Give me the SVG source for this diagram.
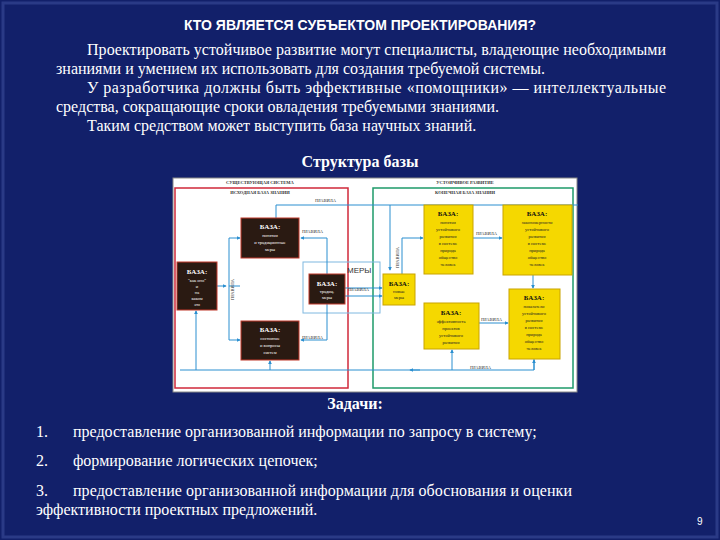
<svg xmlns="http://www.w3.org/2000/svg" width="720" height="540" viewBox="0 0 720 540">
<defs>
<marker id="ar" viewBox="0 0 6 6" refX="5" refY="3" markerWidth="4" markerHeight="4" orient="auto"><path d="M0,0L6,3L0,6z" fill="#2a8fd0"/></marker>
</defs>
<style>
.t{font-family:"Liberation Serif",serif;fill:#fff;font-size:16px}
.b{font-weight:bold}
.bx{fill:#2a1a12;stroke:#c0392b;stroke-width:1}
.yb{fill:#f5d800;stroke:#c9a400;stroke-width:1}
.wt{font-family:"Liberation Serif",serif;fill:#fff;font-size:4.5px;text-anchor:middle}
.wh{font-family:"Liberation Serif",serif;fill:#fff;font-size:7px;font-weight:bold;text-anchor:middle}
.yt{font-family:"Liberation Serif",serif;fill:#222;font-size:4.5px;text-anchor:middle}
.yh{font-family:"Liberation Serif",serif;fill:#111;font-size:7px;font-weight:bold;text-anchor:middle}
.lb{font-family:"Liberation Serif",serif;fill:#333;font-size:4.5px}
.c{fill:none;stroke:#2a8fd0;stroke-width:1;marker-end:url(#ar)}
.cn{fill:none;stroke:#2a8fd0;stroke-width:1}
</style>
<rect width="720" height="540" fill="#12206a"/>
<rect x="3" y="3" width="714" height="534" fill="none" stroke="#2a3a86" stroke-width="3"/>
<text x="360" y="30" font-family="Liberation Sans,sans-serif" font-size="14" font-weight="bold" fill="#fff" text-anchor="middle">КТО ЯВЛЯЕТСЯ СУБЪЕКТОМ ПРОЕКТИРОВАНИЯ?</text>
<text class="t" x="87" y="55" textLength="579" lengthAdjust="spacing">Проектировать устойчивое развитие могут специалисты, владеющие необходимыми</text>
<text class="t" x="56" y="74">знаниями и умением их использовать для создания требуемой системы.</text>
<text class="t" x="87" y="93" textLength="579" lengthAdjust="spacing">У разработчика должны быть эффективные «помощники» — интеллектуальные</text>
<text class="t" x="56" y="112">средства, сокращающие сроки овладения требуемыми знаниями.</text>
<text class="t" x="87" y="131">Таким средством может выступить база научных знаний.</text>
<text class="t b" x="360" y="167" text-anchor="middle">Структура базы</text>
<g id="figure">
<rect x="173" y="178" width="404" height="214" fill="#fff" stroke="#888" stroke-width="1"/>
<rect x="175" y="188" width="173" height="200" fill="none" stroke="#d0283a" stroke-width="1.5"/>
<rect x="373" y="188" width="200" height="200" fill="none" stroke="#1e9a6a" stroke-width="1.5"/>
<text class="lb" x="260" y="184" text-anchor="middle" font-weight="bold">СУЩЕСТВУЮЩАЯ СИСТЕМА</text>
<text class="lb" x="260" y="194" text-anchor="middle" font-weight="bold">ИСХОДНАЯ БАЗА ЗНАНИЙ</text>
<text class="lb" x="465" y="184" text-anchor="middle" font-weight="bold">УСТОЙЧИВОЕ РАЗВИТИЕ</text>
<text class="lb" x="465" y="194" text-anchor="middle" font-weight="bold">КОНЕЧНАЯ БАЗА ЗНАНИЙ</text>
<rect x="303" y="262" width="77" height="51" fill="none" stroke="#7fb8e0" stroke-width="1"/>
<text x="347" y="273" font-family="Liberation Sans,sans-serif" font-size="8" fill="#333">МЕРЫ</text>
</g>
<g id="connectors">
<path class="cn" d="M276,218V205H578"/>
<path class="c" d="M390,205V270"/>
<path class="cn" d="M229,286H240"/>
<path class="c" d="M217,286H226"/>
<path class="c" d="M229,286V238H240"/>
<path class="c" d="M229,286V340H240"/>
<path class="c" d="M327,274V238H301"/>
<path class="c" d="M327,304V340H301"/>
<path class="c" d="M345,288H382"/>
<path class="c" d="M345,296H382"/>
<path class="c" d="M402,274V238H423"/>
<path class="c" d="M473,238H502"/>
<path class="c" d="M533,275V288"/>
<path class="c" d="M479,323H508"/>
<path class="cn" d="M534,359V370H180"/>
<path class="c" d="M196,370V311"/>
<path class="c" d="M270,370V361"/>
<path class="c" d="M452,370V350"/>
<path class="c" d="M534,370V360"/>
<path class="c" d="M420,370H410"/>
<text class="lb" x="315" y="202">ПРАВИЛА</text>
<text class="lb" x="302" y="233">ПРАВИЛА</text>
<text class="lb" x="302" y="339">ПРАВИЛА</text>
<text class="lb" x="348" y="291">ПРАВИЛА</text>
<text class="lb" x="476" y="235">ПРАВИЛА</text>
<text class="lb" x="481" y="321">ПРАВИЛА</text>
<text class="lb" x="470" y="369">ПРАВИЛА</text>
<text class="lb" transform="translate(234,300) rotate(-90)">ПРАВИЛА</text>
<text class="lb" transform="translate(399,268) rotate(-90)">ПРАВИЛА</text>
</g>
<g id="n1"><rect class="bx" x="241" y="218" width="58" height="40"/><text class="wh" x="270" y="229">БАЗА:</text><text class="wt" x="270" y="237">понятия</text><text class="wt" x="270" y="244">и традиционные</text><text class="wt" x="270" y="251">меры</text></g>
<g id="n2"><rect class="bx" x="177" y="262" width="40" height="48"/><text class="wh" x="197" y="274">БАЗА:</text><text class="wt" x="197" y="282">"как оно"</text><text class="wt" x="197" y="288">и</text><text class="wt" x="197" y="294">на</text><text class="wt" x="197" y="300">каком</text><text class="wt" x="197" y="306">это</text></g>
<g id="n3"><rect class="bx" x="241" y="321" width="58" height="39"/><text class="wh" x="270" y="332">БАЗА:</text><text class="wt" x="270" y="340">состояние</text><text class="wt" x="270" y="347">и вопросы</text><text class="wt" x="270" y="354">систем</text></g>
<g id="n4"><rect class="bx" x="309" y="274" width="36" height="30"/><text class="wh" x="327" y="286">БАЗА:</text><text class="wt" x="327" y="293">традиц.</text><text class="wt" x="327" y="299">меры</text></g>
<g id="n5"><rect class="yb" x="383" y="274" width="32" height="31"/><text class="yh" x="399" y="286">БАЗА:</text><text class="yt" x="399" y="293">новые</text><text class="yt" x="399" y="299">меры</text></g>
<g id="n6"><rect class="yb" x="424" y="205" width="49" height="69"/><text class="yh" x="448" y="216">БАЗА:</text><text class="yt" x="448" y="224">понятия</text><text class="yt" x="448" y="231">устойчивого</text><text class="yt" x="448" y="238">развития</text><text class="yt" x="448" y="245">в системе</text><text class="yt" x="448" y="252">природа</text><text class="yt" x="448" y="259">общество</text><text class="yt" x="448" y="266">человек</text></g>
<g id="n7"><rect class="yb" x="503" y="205" width="69" height="70"/><text class="yh" x="537" y="216">БАЗА:</text><text class="yt" x="537" y="224">закономерности</text><text class="yt" x="537" y="231">устойчивого</text><text class="yt" x="537" y="238">развития</text><text class="yt" x="537" y="245">в системе</text><text class="yt" x="537" y="252">природа</text><text class="yt" x="537" y="259">общество</text><text class="yt" x="537" y="266">человек</text></g>
<g id="n8"><rect class="yb" x="424" y="303" width="55" height="46"/><text class="yh" x="451" y="315">БАЗА:</text><text class="yt" x="451" y="323">эффективность</text><text class="yt" x="451" y="330">проектов</text><text class="yt" x="451" y="337">устойчивого</text><text class="yt" x="451" y="344">развития</text></g>
<g id="n9"><rect class="yb" x="509" y="289" width="51" height="70"/><text class="yh" x="534" y="300">БАЗА:</text><text class="yt" x="534" y="308">показатели</text><text class="yt" x="534" y="315">устойчивого</text><text class="yt" x="534" y="322">развития</text><text class="yt" x="534" y="329">в системе</text><text class="yt" x="534" y="336">природа</text><text class="yt" x="534" y="343">общество</text><text class="yt" x="534" y="350">человек</text></g>
<text class="t b" x="355" y="409" text-anchor="middle">Задачи:</text>
<text class="t" x="36" y="437">1.</text><text class="t" x="73" y="437">предоставление организованной информации по запросу в систему;</text>
<text class="t" x="36" y="466">2.</text><text class="t" x="73" y="466">формирование логических цепочек;</text>
<text class="t" x="36" y="496">3.</text><text class="t" x="73" y="496" textLength="499" lengthAdjust="spacing">предоставление организованной информации  для обоснования и оценки</text>
<text class="t" x="36" y="515">эффективности проектных предложений.</text>
<text x="697" y="525" font-family="Liberation Sans,sans-serif" font-size="10" fill="#fff">9</text>
</svg>
